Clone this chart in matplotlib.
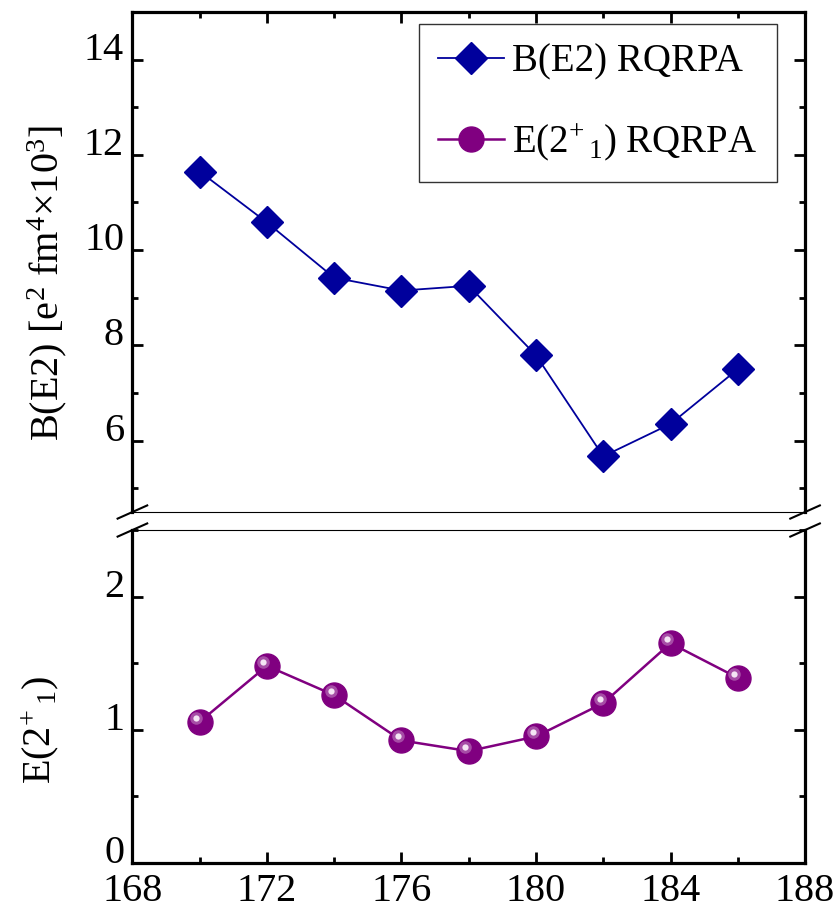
import matplotlib
matplotlib.use('Agg')
import matplotlib.pyplot as plt
import matplotlib.transforms as mtransforms
from matplotlib.ticker import MultipleLocator

plt.rcParams['font.family'] = ['Liberation Serif', 'DejaVu Serif']
plt.rcParams['mathtext.fontset'] = 'custom'
plt.rcParams['mathtext.rm'] = 'Liberation Serif'
plt.rcParams['mathtext.it'] = 'Liberation Serif'

# data
mass = [170, 172, 174, 176, 178, 180, 182, 184, 186]
be2 = [11.65, 10.58, 9.42, 9.15, 9.25, 7.79, 5.67, 6.35, 7.50]
e21 = [1.06, 1.48, 1.26, 0.92, 0.84, 0.95, 1.20, 1.65, 1.39]

blue = '#00009c'
purple = '#800080'

fig = plt.figure(figsize=(8.38, 9.14), dpi=100)
ax1 = fig.add_axes([0.158, 0.4398, 0.8027, 0.5471])
ax2 = fig.add_axes([0.158, 0.0558, 0.8027, 0.3643])

thick, thin = 2.3, 0.8
for ax in (ax1, ax2):
    for side in ('left', 'right'):
        ax.spines[side].set_linewidth(thick)
    ax.set_xlim(168, 188)
    ax.xaxis.set_major_locator(MultipleLocator(4))
    ax.xaxis.set_minor_locator(MultipleLocator(2))
    ax.tick_params(which='both', direction='in', width=2, labelsize=29, right=True)
    ax.tick_params(which='major', length=8)
    ax.tick_params(which='minor', length=4.5)
    ax.tick_params(axis='y', pad=6)

ax1.spines['top'].set_linewidth(thick)
ax1.spines['bottom'].set_linewidth(thin)
ax2.spines['top'].set_linewidth(thin)
ax2.spines['bottom'].set_linewidth(thick)

ax1.tick_params(which='both', top=True, bottom=False, labelbottom=False)
ax2.tick_params(which='both', top=False, bottom=True)
ax2.tick_params(axis='x', pad=7)

ax1.set_ylim(4.5, 15)
ax1.yaxis.set_major_locator(MultipleLocator(2))
ax1.yaxis.set_minor_locator(MultipleLocator(1))
ax2.set_ylim(0, 2.5)
ax2.yaxis.set_major_locator(MultipleLocator(1))
ax2.yaxis.set_minor_locator(MultipleLocator(0.5))

# y tick labels sit on the tick (baseline) like in the original
for ax in (ax1, ax2):
    for t in ax.yaxis.get_major_ticks():
        t.label1.set_verticalalignment('baseline')

ax1.plot(mass, be2, color=blue, lw=1.3, marker='D', ms=16, mec=blue, mfc=blue,
         label='B(E2) RQRPA')

# purple spheres with a small highlight
e_label = r'E(2$^{+}$$_{\,1}$) RQRPA'
ax2.plot(mass, e21, color=purple, lw=1.8, marker='o', ms=18, mec=purple, mfc=purple,
         label=e_label, zorder=3)
shift = mtransforms.ScaledTranslation(-3.5 / 100, 4 / 100, fig.dpi_scale_trans)
ax2.plot(mass, e21, ls='none', marker='o', ms=9, mfc='#b060b0', mec='none',
         alpha=0.8, transform=ax2.transData + shift, zorder=4)
ax2.plot(mass, e21, ls='none', marker='o', ms=4.5, mfc='#f4e4f4', mec='none',
         transform=ax2.transData + shift, zorder=5)

ax1.set_ylabel(r'B(E2) [e$^{2}$ fm$^{4}$$\times$10$^{3}$]', fontsize=29)
ax2.set_ylabel(r'E(2$^{+}$$_{\,1}$)', fontsize=29)
ax1.yaxis.set_label_coords(-0.094, 0.458)
ax2.yaxis.set_label_coords(-0.106, 0.40)

# legend with both series
h1, l1 = ax1.get_legend_handles_labels()
h2, l2 = ax2.get_legend_handles_labels()
leg = ax1.legend(h1 + h2, l1 + l2, loc='upper right', bbox_to_anchor=(0.958, 0.976),
                 fontsize=28, frameon=True, fancybox=False, edgecolor='black',
                 handlelength=1.7, handletextpad=0.2, borderpad=0.5, labelspacing=1.05,
                 borderaxespad=0)
leg.get_frame().set_linewidth(1.0)

# break marks
d = 0.022
kw = dict(color='black', lw=1.5, clip_on=False)
for x in (0, 1):
    ax1.plot([x - d, x + d], [-d * 0.6, d * 0.6], transform=ax1.transAxes, **kw)
    ax2.plot([x - d, x + d], [1 - d * 0.9, 1 + d * 0.9], transform=ax2.transAxes, **kw)

fig.savefig('out.png', dpi=100)
